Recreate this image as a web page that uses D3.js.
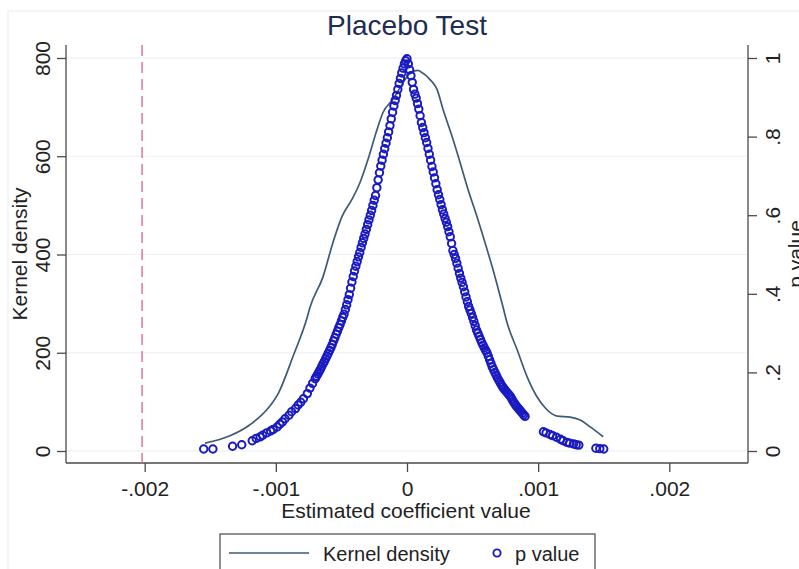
<!DOCTYPE html>
<html>
<head>
<meta charset="utf-8">
<script src="https://cdn.jsdelivr.net/npm/d3@7"></script>
<style>
	body { margin: 0; background: #fff; }
	text { font-family: "Liberation Sans", Arial, sans-serif; }
</style>
</head>
<body>
<div id="canvas"></div>
<script>
// kernel density of placebo estimates
var densCoef = [-0.00154, -0.00135, -0.00120, -0.00105, -0.00098, -0.00087, -0.00076, -0.00074,
	-0.00064, -0.000565, -0.000496, -0.00042, -0.000359, -0.000298, -0.000229, -0.000183,
	-0.000107, -0.000069, -0.000015, 0.000031, 0.000084, 0.000099, 0.000176, 0.000229,
	0.000275, 0.000344, 0.000405, 0.000466, 0.000534, 0.000595, 0.000656, 0.000733,
	0.000763, 0.00084, 0.000916, 0.000992, 0.001053, 0.001145, 0.001244, 0.001321,
	0.001397, 0.001496];
var densVal = [16, 31, 53, 90, 118, 192, 273, 292,
	355, 424, 477, 512, 546, 593, 654, 689,
	716, 732, 756, 771, 775, 773, 756, 736,
	695, 640, 587, 532, 477, 424, 369, 292,
	261, 206, 151, 110, 88, 71, 69, 63,
	49, 29];

// p values of the placebo estimates (left tail, left branch, right branch, right tail)
var pCoef = [-0.00155, -0.00148, -0.00133, -0.00126, -0.00118, -0.00115, -0.00112, -0.00110,
	-0.00107, -0.00104, -0.00102, -0.00099, -0.00097, -0.00095, -0.00093, -0.00090,
	-0.00088, -0.00085, -0.00083, -0.00081, -0.00079, -0.00076, -0.00074, -0.00072,
	-0.00070, -0.00069, -0.00068, -0.00067, -0.00066, -0.00065, -0.00064, -0.00063,
	-0.00062, -0.00061, -0.00060, -0.00059, -0.00058, -0.00057, -0.00056, -0.00055,
	-0.00054, -0.00053, -0.00052, -0.00051, -0.00050, -0.00049, -0.00048, -0.00047,
	-0.00046, -0.00045, -0.00044, -0.00043, -0.00042, -0.00041, -0.00040, -0.00039,
	-0.00038, -0.00037, -0.00036, -0.00035, -0.00034, -0.00033, -0.00032, -0.00031,
	-0.00030, -0.00029, -0.00028, -0.00027, -0.00026, -0.00025, -0.00024, -0.00023,
	-0.00022, -0.00021, -0.00020, -0.00019, -0.00018, -0.00017, -0.00016, -0.00015,
	-0.00014, -0.00013, -0.00012, -0.00011, -0.00010, -0.00009, -0.00008, -0.00007,
	-0.00006, -0.00005, -0.00004, -0.00003, -0.00002, -0.00001, 0.00000,
	0.00001, 0.00002, 0.00003, 0.00004, 0.00005, 0.00006, 0.00007, 0.00008,
	0.00009, 0.00010, 0.00011, 0.00012, 0.00013, 0.00014, 0.00015, 0.00016,
	0.00017, 0.00018, 0.00019, 0.00020, 0.00021, 0.00022, 0.00023, 0.00024,
	0.00025, 0.00026, 0.00027, 0.00028, 0.00029, 0.00030, 0.00031, 0.00032,
	0.00033, 0.00034, 0.00035, 0.00036, 0.00037, 0.00038, 0.00039, 0.00040,
	0.00041, 0.00042, 0.00043, 0.00044, 0.00045, 0.00046, 0.00047, 0.00048,
	0.00049, 0.00050, 0.00051, 0.00052, 0.00053, 0.00054, 0.00055, 0.00056,
	0.00057, 0.00058, 0.00059, 0.00060, 0.00061, 0.00062, 0.00063, 0.00064,
	0.00065, 0.00066, 0.00067, 0.00068, 0.00069, 0.00070, 0.00071, 0.00072,
	0.00073, 0.00074, 0.00075, 0.00076, 0.00077, 0.00078, 0.00079, 0.00080,
	0.00081, 0.00082, 0.00083, 0.00084, 0.00085, 0.00086, 0.00087, 0.00088,
	0.00089, 0.00090,
	0.00104, 0.00106, 0.00109, 0.00111, 0.00114, 0.00117, 0.00119, 0.00122,
	0.00124, 0.00127, 0.00129, 0.00131, 0.00144, 0.00147, 0.00150];
var pVal = [0.005, 0.005, 0.012, 0.016, 0.026, 0.032, 0.036, 0.040,
	0.046, 0.051, 0.055, 0.061, 0.068, 0.074, 0.082, 0.091,
	0.100, 0.108, 0.117, 0.124, 0.133, 0.146, 0.160, 0.172,
	0.184, 0.190, 0.196, 0.202, 0.208, 0.215, 0.222, 0.228,
	0.235, 0.242, 0.249, 0.256, 0.263, 0.271, 0.280, 0.288,
	0.297, 0.305, 0.314, 0.322, 0.331, 0.340, 0.348, 0.360,
	0.372, 0.385, 0.398, 0.414, 0.430, 0.444, 0.458, 0.470,
	0.482, 0.494, 0.505, 0.518, 0.530, 0.541, 0.552, 0.564,
	0.576, 0.588, 0.600, 0.612, 0.625, 0.638, 0.650, 0.670,
	0.690, 0.708, 0.725, 0.740, 0.755, 0.769, 0.783, 0.797,
	0.812, 0.828, 0.845, 0.862, 0.878, 0.892, 0.905, 0.920,
	0.935, 0.948, 0.962, 0.974, 0.985, 0.993, 0.998,
	0.985, 0.970, 0.955, 0.938, 0.920, 0.908, 0.898, 0.884,
	0.870, 0.853, 0.836, 0.823, 0.810, 0.797, 0.785, 0.770,
	0.755, 0.740, 0.724, 0.710, 0.695, 0.680, 0.665, 0.652,
	0.640, 0.627, 0.614, 0.603, 0.592, 0.582, 0.571, 0.558,
	0.545, 0.528, 0.510, 0.500, 0.490, 0.478, 0.465, 0.452,
	0.440, 0.429, 0.418, 0.405, 0.392, 0.380, 0.368, 0.359,
	0.350, 0.340, 0.330, 0.319, 0.308, 0.300, 0.292, 0.284,
	0.276, 0.269, 0.262, 0.256, 0.250, 0.241, 0.232, 0.223,
	0.214, 0.207, 0.200, 0.193, 0.186, 0.180, 0.174, 0.168,
	0.163, 0.158, 0.154, 0.150, 0.146, 0.142, 0.138, 0.132,
	0.126, 0.121, 0.116, 0.112, 0.108, 0.104, 0.100, 0.096,
	0.092, 0.088,
	0.049, 0.046, 0.042, 0.039, 0.035, 0.030, 0.026, 0.022,
	0.020, 0.018, 0.016, 0.015, 0.007, 0.006, 0.005];

var xTicks = [-0.002, -0.001, 0, 0.001, 0.002];
var xTickLabels = ["-.002", "-.001", "0", ".001", ".002"];
var yTicks = [0, 200, 400, 600, 800];
var pTicks = [0, 0.2, 0.4, 0.6, 0.8, 1];
var pTickLabels = ["0", ".2", ".4", ".6", ".8", "1"];
var trueCoef = -0.00202;

Chart = function(){
	var self = this;
	var svg = d3.select("#canvas").append("svg")
		.attr("width", 799)
		.attr("height", 569);

	var left = 66, right = 748, top = 58, bottom = 451, axisY = 463;
	var x = d3.scaleLinear().domain([-0.0026, 0.0026]).range([left, right]);
	var y = d3.scaleLinear().domain([0, 800]).range([bottom, top]);
	var yp = d3.scaleLinear().domain([0, 1]).range([bottom, top]);
	var axisColor = "#4a4a4a";

	// faint outer frame
	svg.append("rect")
		.attr("x", 8).attr("y", 11)
		.attr("width", 820).attr("height", 600)
		.attr("fill", "none")
		.attr("stroke", "#ececec");

	svg.append("text")
		.attr("x", 407).attr("y", 35)
		.attr("text-anchor", "middle")
		.attr("font-size", 28)
		.attr("fill", "#1e2d50")
		.text("Placebo Test");

	// grid
	svg.append("g").selectAll("line").data(yTicks)
		.enter().append("line")
		.attr("x1", left).attr("x2", right)
		.attr("y1", function(d){ return y(d); })
		.attr("y2", function(d){ return y(d); })
		.attr("stroke", "#eaf0f4")
		.attr("stroke-width", 1.2);

	// axes
	var xAxis = svg.append("g")
		.attr("transform", "translate(0," + axisY + ")")
		.call(d3.axisBottom(x).tickValues(xTicks).tickSize(9).tickPadding(9)
			.tickFormat(function(d, i){ return xTickLabels[i]; }));
	var yAxis = svg.append("g")
		.attr("transform", "translate(" + left + ",0)")
		.call(d3.axisLeft(y).tickValues(yTicks).tickSize(9).tickFormat(d3.format("d")));
	var pAxis = svg.append("g")
		.attr("transform", "translate(" + right + ",0)")
		.call(d3.axisRight(yp).tickValues(pTicks).tickSize(9)
			.tickFormat(function(d, i){ return pTickLabels[i]; }));

	[xAxis, yAxis, pAxis].forEach(function(g){
		g.select(".domain").remove();
		g.selectAll(".tick line").attr("stroke", axisColor).attr("stroke-width", 1.3);
		g.selectAll(".tick text")
			.attr("font-size", 21)
			.attr("font-family", "'Liberation Sans', Arial, sans-serif")
			.attr("fill", "#222");
	});
	yAxis.selectAll(".tick text")
		.attr("x", null).attr("dy", null)
		.attr("text-anchor", "middle")
		.attr("transform", "translate(-16,0) rotate(-90)");
	pAxis.selectAll(".tick text")
		.attr("x", null).attr("dy", null)
		.attr("text-anchor", "middle")
		.attr("transform", "translate(32,0) rotate(-90)");

	// axis lines
	svg.append("line")
		.attr("x1", left).attr("x2", right).attr("y1", axisY).attr("y2", axisY)
		.attr("stroke", axisColor).attr("stroke-width", 1.3);
	svg.append("line")
		.attr("x1", left).attr("x2", left).attr("y1", 45).attr("y2", axisY)
		.attr("stroke", axisColor).attr("stroke-width", 1.3);
	svg.append("line")
		.attr("x1", right).attr("x2", right).attr("y1", 45).attr("y2", axisY)
		.attr("stroke", axisColor).attr("stroke-width", 1.3);

	// axis titles
	svg.append("text")
		.attr("x", 406).attr("y", 518)
		.attr("text-anchor", "middle")
		.attr("font-size", 21)
		.attr("fill", "#222")
		.text("Estimated coefficient value");
	svg.append("text")
		.attr("transform", "translate(27,254) rotate(-90)")
		.attr("text-anchor", "middle")
		.attr("font-size", 21)
		.attr("fill", "#222")
		.text("Kernel density");
	// the chart cuts this title at the right edge
	svg.append("text")
		.attr("transform", "translate(803,254) rotate(-90)")
		.attr("text-anchor", "middle")
		.attr("font-size", 21)
		.attr("fill", "#222")
		.text("p value");

	// true estimate reference line
	svg.append("line")
		.attr("x1", x(trueCoef)).attr("x2", x(trueCoef))
		.attr("y1", 45).attr("y2", axisY)
		.attr("stroke", "#dc6f86")
		.attr("stroke-width", 1.4)
		.attr("stroke-dasharray", "11,6");

	self.drawDensity = function(){
		var pts = densCoef.map(function(d, i){ return [d, densVal[i]]; });
		svg.append("path")
			.datum(pts)
			.attr("fill", "none")
			.attr("stroke", "#3d5b76")
			.attr("stroke-width", 1.7)
			.attr("d", d3.line()
				.x(function(d){ return x(d[0]); })
				.y(function(d){ return y(d[1]); })
				.curve(d3.curveMonotoneX));
	}
	self.drawPoints = function(){
		var pts = pCoef.map(function(d, i){ return {c: d, p: pVal[i]}; });
		svg.append("g").selectAll("circle").data(pts)
			.enter().append("circle")
			.attr("r", 3.7)
			.attr("cx", function(d){ return x(d.c); })
			.attr("cy", function(d){ return yp(d.p); })
			.attr("fill", "none")
			.attr("stroke", "#1a1ac2")
			.attr("stroke-width", 2);
	}
	self.drawLegend = function(){
		var g = svg.append("g");
		g.append("rect")
			.attr("x", 220).attr("y", 534)
			.attr("width", 375).attr("height", 50)
			.attr("fill", "#fff")
			.attr("stroke", "#555")
			.attr("stroke-width", 1.3);
		g.append("line")
			.attr("x1", 229).attr("x2", 309).attr("y1", 553).attr("y2", 553)
			.attr("stroke", "#3d5b76").attr("stroke-width", 1.7);
		g.append("text")
			.attr("x", 323).attr("y", 561)
			.attr("font-size", 20).attr("fill", "#222")
			.text("Kernel density");
		g.append("circle")
			.attr("cx", 497).attr("cy", 553).attr("r", 3.6)
			.attr("fill", "none").attr("stroke", "#1a1ac2").attr("stroke-width", 1.9);
		g.append("text")
			.attr("x", 515).attr("y", 561)
			.attr("font-size", 20).attr("fill", "#222")
			.text("p value");
	}
	self.drawDensity();
	self.drawPoints();
	self.drawLegend();
}
new Chart();
</script>
</body>
</html>
